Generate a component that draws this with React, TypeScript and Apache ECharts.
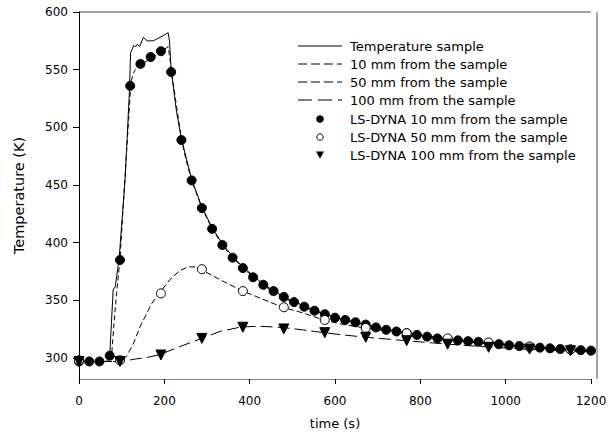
import React, { useEffect, useRef } from "react";
import * as echarts from "echarts";

// Experimental curves (time s, temperature K)
const sampleTime = [0, 65, 72, 76, 80, 85, 94, 108, 118, 121, 125, 128, 133, 137, 142, 151, 156, 160, 174, 190, 209, 212, 216, 228, 240, 264, 288, 312, 336, 360, 384, 432, 480, 528, 576, 624, 672, 720, 768, 816, 864, 912, 960, 1008, 1056, 1104, 1152, 1200];
const sampleTemp = [297, 297, 302, 330, 359, 362, 386, 455, 530, 565, 568, 571, 570, 572, 570, 578, 576, 575, 575, 578, 582, 575, 550, 515, 490, 455, 431, 413, 399, 388, 379, 364, 353, 345, 338, 333, 329, 325, 321.5, 318.5, 316, 314.5, 313, 311, 309.7, 308.4, 307.3, 306];

const exp10Time = [0, 70, 76, 82, 88, 96, 110, 122, 130, 147, 166, 190, 209, 213, 218, 230, 240, 252, 264, 288, 312, 336, 360, 384, 432, 480, 528, 576, 624, 672, 720, 768, 816, 864, 912, 960, 1008, 1056, 1104, 1152, 1200];
const exp10Temp = [297, 297, 300, 330, 356, 385, 470, 540, 549, 555, 559, 565, 570, 560, 545, 515, 490, 470, 454, 430, 412, 398, 387, 378, 363, 352, 344, 338, 333, 328, 324, 321, 318, 316, 314, 312.5, 311, 309.5, 308.3, 307, 306];

const exp50Time = [0, 100, 112, 127, 143, 158, 170, 190, 213, 237, 256, 276, 290, 330, 381, 424, 477, 526, 573, 620, 672, 768, 864, 960, 1056, 1152, 1200];
const exp50Temp = [297, 297, 302, 312, 327, 338, 347, 357, 368, 376, 379, 379, 376, 368, 358.5, 352, 344, 339, 333, 329, 326, 321, 317, 313, 309.5, 307, 306];

const exp100Time = [0, 100, 130, 160, 190, 237, 288, 330, 381, 424, 477, 526, 573, 620, 672, 768, 864, 960, 1056, 1152, 1200];
const exp100Temp = [297, 297, 299, 300.5, 303, 310, 317, 323, 327, 327.5, 326.5, 324.3, 322, 320, 318, 315, 312, 309.5, 307.5, 306, 305.5];

// LS-DYNA simulation points
const dyna10Time = [0, 24, 48, 72, 96, 120, 144, 168, 192, 216, 240, 264, 288, 312, 336, 360, 384, 408, 432, 456, 480, 504, 528, 552, 576, 600, 624, 648, 672, 696, 720, 744, 768, 792, 816, 840, 864, 888, 912, 936, 960, 984, 1008, 1032, 1056, 1080, 1104, 1128, 1152, 1176, 1200];
const dyna10Temp = [297, 297, 297, 302, 385, 536, 555, 561, 566, 548, 489, 454, 430, 412, 398, 387, 378, 370, 363.5, 358, 353, 348.5, 344.5, 341, 338, 335, 333, 331, 329, 326.5, 324.5, 323, 321.5, 320, 318.5, 317, 316, 315.3, 314.6, 314, 313, 312, 311, 310.4, 309.7, 309, 308.4, 307.8, 307.3, 306.8, 306.4];

const dyna50Time = [0, 96, 192, 288, 384, 480, 576, 672, 768, 864, 960, 1056, 1152];
const dyna50Temp = [298, 298, 356, 377, 358, 344, 333, 326, 321.5, 317, 313.5, 310, 307.5];

const dyna100Time = [0, 96, 192, 288, 384, 480, 576, 672, 768, 864, 960, 1056, 1152];
const dyna100Temp = [297, 297, 302.6, 317, 326.7, 325.2, 322, 318, 315, 312, 309.3, 307.8, 306.3];

const yTicks = [300, 350, 400, 450, 500, 550, 600];

const legendLabels = [
  "Temperature sample",
  "10 mm from the sample",
  "50 mm from the sample",
  "100 mm from the sample",
  "LS-DYNA 10 mm from the sample",
  "LS-DYNA 50 mm from the sample",
  "LS-DYNA 100 mm from the sample",
];

const zip = (a: number[], b: number[]) => a.map((v, i) => [v, b[i]]);

const FONT = "DejaVu Sans";
const TRI = "path://M0,0 L10,0 L5,9 Z";

export default function App() {
  const ref = useRef<HTMLDivElement>(null);
  useEffect(() => {
    if (!ref.current) return;
    const chart = echarts.init(ref.current, null, { renderer: "svg" });

    const lineSeries = (name: string, t: number[], v: number[], dash: any) => ({
      name,
      type: "line",
      data: zip(t, v),
      showSymbol: false,
      symbol: "none",
      clip: false,
      lineStyle: { color: "#000", width: 1, type: dash },
      z: 2,
    });
    const markerSeries = (name: string, t: number[], v: number[], symbol: string, fill: string, size: number) => ({
      name,
      type: "line",
      data: zip(t, v),
      symbol,
      symbolSize: size,
      showSymbol: true,
      clip: false,
      lineStyle: { opacity: 0 },
      itemStyle: { color: fill, borderColor: "#000", borderWidth: 1 },
      z: 3,
    });

    const rowY = [46, 64, 82, 100, 119, 137, 155];
    const g: any[] = [];
    const dashes: any[] = [null, [9, 4], [9, 4], [14, 6]];
    for (let i = 0; i < 4; i++) {
      g.push({
        type: "line",
        shape: { x1: 298, y1: rowY[i], x2: 342, y2: rowY[i] },
        style: { stroke: "#000", lineWidth: 1, lineDash: dashes[i] || undefined },
      });
    }
    g.push({ type: "circle", shape: { cx: 320, cy: rowY[4], r: 3.8 }, style: { fill: "#000" } });
    g.push({ type: "circle", shape: { cx: 320, cy: rowY[5], r: 3.2 }, style: { fill: "#fff", stroke: "#000", lineWidth: 1 } });
    g.push({
      type: "polygon",
      shape: { points: [[316, rowY[6] - 3.5], [324, rowY[6] - 3.5], [320, rowY[6] + 3.8]] },
      style: { fill: "#000" },
    });
    legendLabels.forEach((txt, i) => {
      g.push({
        type: "text",
        x: 350,
        y: rowY[i],
        style: { text: txt, fill: "#000", font: `13px "${FONT}"`, textVerticalAlign: "middle", textAlign: "left" },
      });
    });
    // frame lines
    g.push({ type: "line", shape: { x1: 79, y1: 12, x2: 591, y2: 12 }, style: { stroke: "#444", lineWidth: 1 } });
    g.push({ type: "line", shape: { x1: 597, y1: 12, x2: 597, y2: 379 }, style: { stroke: "#888", lineWidth: 1.5 } });

    chart.setOption({
      animation: false,
      backgroundColor: "#fff",
      grid: { left: 79, right: 25, top: 12, bottom: 64, show: false },
      xAxis: {
        type: "value",
        min: 0,
        max: 1200,
        interval: 200,
        name: "time (s)",
        nameLocation: "middle",
        nameGap: 38,
        nameTextStyle: { fontFamily: FONT, fontSize: 13, color: "#000" },
        axisLine: { show: true, lineStyle: { color: "#888", width: 1 } },
        axisTick: { show: true, inside: false, length: 5, lineStyle: { color: "#000" } },
        axisLabel: { fontFamily: FONT, fontSize: 12, color: "#000", margin: 16, formatter: (v: number) => String(v) },
        splitLine: { show: false },
      },
      yAxis: {
        type: "value",
        min: 281.8,
        max: 600,
        name: "Temperature (K)",
        nameLocation: "middle",
        nameGap: 53,
        nameTextStyle: { fontFamily: FONT, fontSize: 14.5, color: "#000" },
        axisLine: { show: true, onZero: false, lineStyle: { color: "#000", width: 1 } },
        axisTick: { show: true, inside: false, length: 6, customValues: yTicks, lineStyle: { color: "#000" } },
        axisLabel: { fontFamily: FONT, fontSize: 12, color: "#000", margin: 11, customValues: yTicks, formatter: (v: number) => String(v) },
        splitLine: { show: false },
      },
      series: [
        lineSeries(legendLabels[0], sampleTime, sampleTemp, "solid"),
        lineSeries(legendLabels[1], exp10Time, exp10Temp, [5, 3]),
        lineSeries(legendLabels[2], exp50Time, exp50Temp, [6, 3]),
        lineSeries(legendLabels[3], exp100Time, exp100Temp, [12, 5]),
        markerSeries(legendLabels[4], dyna10Time, dyna10Temp, "circle", "#000", 9),
        markerSeries(legendLabels[5], dyna50Time, dyna50Temp, "circle", "#fff", 9),
        markerSeries(legendLabels[6], dyna100Time, dyna100Temp, TRI, "#000", 10),
      ],
      graphic: g,
    });
    return () => chart.dispose();
  }, []);
  return <div ref={ref} style={{ position: "fixed", left: 0, top: 0, width: 616, height: 443 }} />;
}
